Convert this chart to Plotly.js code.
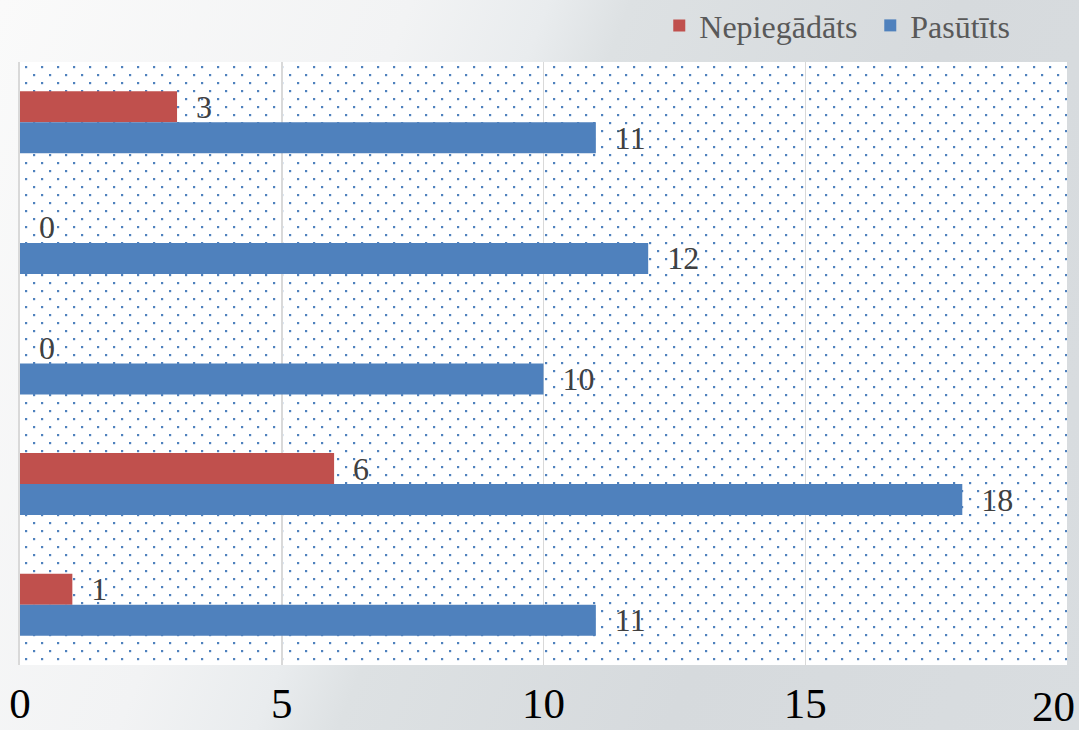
<!DOCTYPE html>
<html>
<head>
<meta charset="utf-8">
<script src="https://cdn.plot.ly/plotly-3.0.1.min.js"></script>
<style>
html, body { margin:0; padding:0; }
body {
  width:1079px; height:730px; overflow:hidden;
  background: linear-gradient(112deg, #fafafa 0%, #f2f3f4 30%, #e9ecee 40%, #dde1e3 46%, #d6dadd 70%, #d9dde0 100%);
}
#chart { width:1079px; height:730px; }
</style>
</head>
<body>
<div id="chart"></div>
<script>
// Data (top to bottom)
const categories = ["A", "B", "C", "D", "E"];
const seriesNames = ["Nepiegādāts", "Pasūtīts"];
const nepiegadats = [3, 0, 0, 6, 1];
const pasutits = [11, 12, 10, 18, 11];
const tickValues = [0, 5, 10, 15, 20];
const tickLabels = ["0", "5", "10", "15", "20"];

const colors = ["#c0504d", "#4f81bd"];
const serif = "'Liberation Serif', 'Times New Roman', serif";
const labelFont = { family: serif, size: 32, color: "#404040" };
const tickFont = { family: serif, size: 43, color: "#000000" };

function barTrace(name, values, color) {
  return {
    type: "bar",
    orientation: "h",
    name: name,
    y: categories,
    x: values,
    marker: { color: color },
    text: values.map(String),
    texttemplate: "\u00a0\u00a0%{x}",
    textposition: "outside",
    textfont: labelFont,
    constraintext: "none",
    cliponaxis: false,
    hoverinfo: "skip"
  };
}

const data = [
  barTrace(seriesNames[0], nepiegadats, colors[0]),
  barTrace(seriesNames[1], pasutits, colors[1])
];

const dotSvg =
  '<svg xmlns="http://www.w3.org/2000/svg" width="1047" height="603">' +
  '<defs><pattern id="p" width="16" height="16" patternUnits="userSpaceOnUse" x="5" y="4">' +
  '<rect x="0" y="0" width="2.2" height="2.2" fill="#4f81bd"/>' +
  '<rect x="8" y="8" width="2.2" height="2.2" fill="#4f81bd"/>' +
  '</pattern></defs>' +
  '<rect width="1047" height="603" fill="#ffffff"/>' +
  '<rect width="1047" height="603" fill="url(#p)"/></svg>';

const lastIdx = tickValues.length - 1;

const layout = {
  width: 1079,
  height: 730,
  margin: { l: 20, r: 12, t: 62, b: 65, pad: 0, autoexpand: false },
  paper_bgcolor: "rgba(0,0,0,0)",
  plot_bgcolor: "#ffffff",
  barmode: "group",
  bargap: 0.486,
  bargroupgap: 0,
  showlegend: true,
  legend: {
    orientation: "h",
    xref: "container", yref: "paper",
    x: 0.611, xanchor: "left",
    y: 1.106, yanchor: "top",
    entrywidth: 166,
    font: { family: serif, size: 32, color: "#595959" },
    bgcolor: "rgba(0,0,0,0)",
    itemclick: false,
    traceorder: "normal"
  },
  xaxis: {
    range: [tickValues[0], tickValues[lastIdx]],
    tickmode: "array",
    tickvals: tickValues.slice(0, lastIdx),
    ticktext: tickLabels.slice(0, lastIdx),
    ticklabeloverflow: "allow",
    ticklabelstandoff: 9,
    showgrid: true,
    gridcolor: "#d9d9d9",
    gridwidth: 1.5,
    zeroline: false,
    showline: false,
    ticks: "",
    tickfont: tickFont,
    fixedrange: true
  },
  yaxis: {
    type: "category",
    autorange: "reversed",
    showticklabels: false,
    showgrid: false,
    zeroline: false,
    showline: true,
    linecolor: "#d9d9d9",
    linewidth: 2,
    ticks: "",
    fixedrange: true
  },
  annotations: [{
    // last tick label, right-aligned at its tick so it stays inside the page
    x: tickValues[lastIdx], xref: "x",
    y: 0, yref: "paper",
    xanchor: "right", yanchor: "top",
    xshift: 9, yshift: -17,
    text: tickLabels[lastIdx],
    showarrow: false,
    font: tickFont,
    borderpad: 0
  }],
  images: [{
    source: "data:image/svg+xml;charset=utf-8," + encodeURIComponent(dotSvg),
    xref: "paper", yref: "paper",
    x: 0, y: 1, sizex: 1, sizey: 1,
    xanchor: "left", yanchor: "top",
    sizing: "stretch",
    layer: "below"
  }]
};

Plotly.newPlot("chart", data, layout, { displayModeBar: false, staticPlot: true });
</script>
</body>
</html>
